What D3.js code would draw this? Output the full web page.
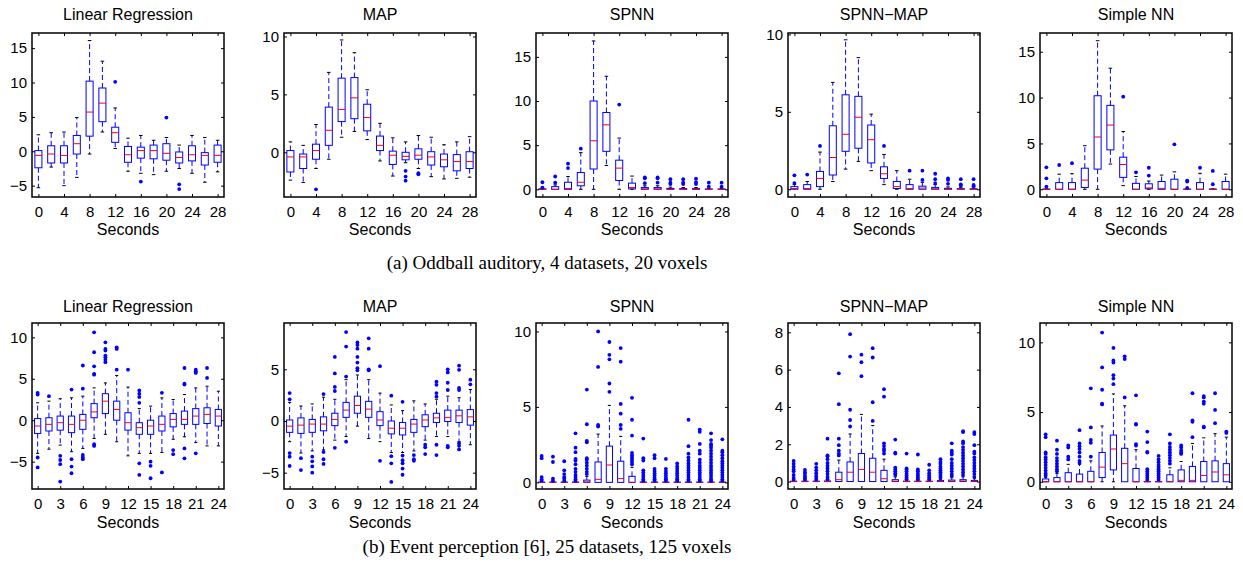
<!DOCTYPE html>
<html>
<head>
<meta charset="utf-8">
<script src="https://cdn.jsdelivr.net/npm/d3@7"></script>
<style>
body { margin: 0; background: #fff; }
svg { display: block; font-family: "Liberation Sans", Arial, sans-serif; }
</style>
</head>
<body>
<svg id="chart" width="1243" height="571"></svg>
<script>
// categories (seconds) and tick labels
const secondsA = [0, 2, 4, 6, 8, 10, 12, 14, 16, 18, 20, 22, 24, 26, 28];
const secondsB = [0, 1.5, 3, 4.5, 6, 7.5, 9, 10.5, 12, 13.5, 15, 16.5, 18, 19.5, 21, 22.5, 24];
const xTicksA = [0, 4, 8, 12, 16, 20, 24, 28];
const xTicksB = [0, 3, 6, 9, 12, 15, 18, 21, 24];

// box stats per time point: [lower whisker, q1, median, q3, upper whisker]
// (a) Oddball auditory
const lrA = [[-5.3,-2.4,-0.6,0.1,2.4],[-2.3,-1.7,-0.4,0.8,2.7],[-5.0,-1.7,-0.6,0.8,2.8],[-3.8,-0.4,1.1,2.3,4.9],
  [-0.4,2.2,5.7,10.2,16.1],[2.8,4.3,7.0,9.2,13.1],[0.4,1.3,2.7,3.5,6.3],[-2.9,-1.6,-0.5,0.7,1.9],
  [-3.2,-1.0,0.1,0.6,2.3],[-3.4,-1.1,0.1,0.9,1.6],[-2.9,-1.3,-0.3,1.1,2.0],[-2.5,-1.7,-0.9,-0.1,0.9],
  [-3.2,-1.4,-0.5,0.8,2.3],[-4.5,-2.0,-0.6,-0.2,2.0],[-3.0,-1.6,-0.6,0.9,1.6]];
const lrAOut = [[],[],[],[],[],[],[10.1],[],[-4.4],[],[4.9],[-4.8,-5.5],[],[],[]];

const mapA = [[-2.4,-1.7,-0.4,0.15,0.9],[-2.6,-1.4,-0.4,-0.15,0.6],[-1.4,-0.6,0.15,0.7,2.4],[-0.6,0.6,1.9,3.9,6.9],
  [1.3,2.65,3.7,6.4,9.7],[1.8,2.9,4.7,6.45,8.6],[1.1,1.85,3.0,4.15,5.4],[-0.75,0.15,0.6,1.4,2.5],
  [-2.05,-1.05,-0.25,0.1,1.25],[-0.9,-0.65,-0.35,0,0.9],[-1.4,-0.6,-0.25,0.3,1.45],[-2.1,-1.1,-0.4,0.05,1.3],
  [-2.3,-1.25,-0.65,-0.15,0.65],[-2.25,-1.6,-0.8,-0.2,0.9],[-2.15,-1.4,-0.8,0.05,1.35]];
const mapAOut = [[],[],[-3.2],[],[],[],[],[],[],[-1.6,-2.1,-2.45],[-1.8,-1.9],[],[],[],[]];

const spnnA = [[0,0,0,0.05,0.1],[0,0,0,0.3,0.5],[0,0,0.1,0.8,1.45],[0,0.4,0.8,1.9,4.15],
  [0,2.3,5.5,10.0,16.8],[2.7,4.3,7.3,8.7,12.8],[0,1.0,2.4,3.3,5.8],[0,0.05,0.2,0.7,1.5],
  [0,0,0.05,0.2,0.4],[0,0,0.05,0.2,0.4],[0,0,0,0.1,0.25],[0,0,0,0.08,0.2],
  [0,0,0,0.08,0.2],[0,0,0,0.04,0.1],[0,0,0,0.04,0.1]];
const spnnAOut = [[0.2,0.8],[0.75,1.45],[2.4,2.9],[4.6],[],[],[9.6],[],
  [0.7,1.25,1.35],[0.75,1.25,1.35],[0.6,0.75,1.15],[0.6,0.75,1.15],[0.6,0.8,1.2],[0.3,0.75],[0.3,0.75]];

const spnnMapA = [[0,0,0.05,0.17,0.3],[0,0,0.05,0.3,0.5],[0,0.17,0.7,1.15,2.4],[0.5,0.92,2.05,4.1,6.9],
  [1.3,2.45,3.55,6.1,9.65],[1.8,2.65,4.65,6.0,8.5],[1.2,1.7,3.2,4.15,4.85],[0.3,0.7,1.0,1.45,2.25],
  [0,0.05,0.17,0.5,1.2],[0,0,0.05,0.3,0.65],[0,0,0.08,0.2,0.45],[0,0,0.03,0.12,0.3],
  [0,0,0.02,0.06,0.15],[0,0,0.01,0.04,0.1],[0,0,0,0.03,0.08]];
const spnnMapAOut = [[0.4,0.9],[0.95],[2.8],[],[],[],[],[2.8],
  [],[1.2],[0.6,1.2],[0.4,0.65,1.0],[0.35,0.6,0.7],[0.24,0.32,0.65],[0.2,0.28,0.65]];

const nnA = [[0,0,0,0.03,0.05],[0,0,0,0.73,1.65],[0,0,0,0.73,1.7],[0,0.2,1.0,2.3,4.75],
  [0,2.2,5.7,10.2,16.2],[2.75,4.3,7.0,9.15,13.2],[0.4,1.3,2.7,3.5,6.3],[0,0,0,0.65,1.4],
  [0,0.05,0.15,0.6,0.9],[0,0,0.1,0.85,1.55],[0,0,0,1.1,1.9],[0,0,0,0.03,0.1],
  [0,0,0,0.73,1.75],[0,0,0,0.03,0.05],[0,0,0,0.85,1.65]];
const nnAOut = [[0.3,1.2,2.4],[2.65],[2.85],[],[],[],[10.1],[1.85],
  [1.5,2.35],[],[4.9],[0.15,0.85,0.95],[2.35],[0.55,2.0],[]];

// (b) Event perception
const lrB = [[-4.0,-1.6,-0.7,0.2,2.1],[-3.5,-1.3,-0.5,0.3,2.3],[-3.0,-1.2,-0.3,0.5,2.6],[-3.8,-1.5,-0.5,0.5,2.7],
  [-3.4,-1.1,0,0.7,2.9],[-2.2,0.3,1.0,2.0,3.9],[-1.7,0.8,2.3,3.2,4.5],[-2.6,0,1.3,2.3,5.4],
  [-4.3,-1.2,-0.3,0.9,4.0],[-4.0,-1.7,-0.9,-0.3,1.4],[-4.0,-1.7,-0.7,0,1.7],[-3.9,-1.3,-0.5,0.5,2.7],
  [-2.3,-0.8,0.1,0.8,2.5],[-2.0,-0.5,0.1,1.1,3.1],[-2.7,-0.5,0.5,1.4,3.9],[-3.1,-0.4,0.7,1.5,4.1],
  [-3.1,-0.7,0.5,1.3,3.5]];
const lrBOut = [[3.1,3.3,-4.5,-5.7],[2.9],[-4.3,-4.8,-5.3,-7.4],[3.7,-4.7,-5.6,-6.4],
  [3.8,6.6,-4.2,-4.5,-4.7],[5.5,5.6,6.5,8.2,10.6,-2.9,-3.1],[7.0,7.3,7.6,7.8,8.4,8.6,9.4],[6.1,8.6,8.8],
  [6.1],[2.1,2.8,3.2,3.6,-5.2,-6.6],[-5.0,-5.5,-7.0],[3.3,-6.3],
  [-3.6,-4.1],[4.3,4.4,6.3,-3.4,-4.6],[5.7,5.9,6.1,-4.0],[5.1,6.3],[]];

const mapB = [[-2.0,-1.1,-0.5,0.1,1.8],[-3.1,-1.2,-0.4,0.3,1.45],[-2.9,-1.1,-0.3,0.15,1.65],[-2.8,-0.95,-0.3,0.4,2.3],
  [-1.85,-0.45,0.15,0.75,2.1],[-1.5,0.35,1.05,1.8,4.0],[-0.5,0.75,1.5,2.4,4.45],[-1.7,0.35,1.15,1.9,4.0],
  [-2.0,-0.45,0.1,0.9,2.7],[-3.05,-1.25,-0.7,0,1.55],[-3.05,-1.35,-0.7,-0.15,1.0],[-2.9,-1.1,-0.3,0.15,1.95],
  [-1.85,-0.55,0.1,0.6,1.65],[-1.5,-0.15,0.3,0.75,2.1],[-1.5,-0.05,0.35,1.05,2.4],[-2.0,-0.15,0.5,1.05,2.25],
  [-2.3,-0.4,0.4,1.1,3.05]];
const mapBOut = [[2.1,2.7,-3.1,-3.45,-4.35],[-3.6,-4.75],[-3.45,-3.9,-4.4,-5.0],[2.6,-3.0,-3.7,-4.15],
  [2.9,3.3,4.6,6.2,-2.6],[4.3,7.2,8.6,-2.0],[4.9,5.1,5.65,6.2,7.0,7.35,7.6],[4.9,5.0,7.0,8.0],
  [5.3,-3.85],[2.45,-3.4,-4.1,-5.9],[1.85,-3.35,-3.8,-4.1,-4.6,-5.2],[-3.3,-3.7,-3.85],
  [-2.3,-2.55,-3.2],[2.35,2.7,3.5,3.8,-2.3,-3.3],[3.0,3.7,4.7,5.0,-2.4,-2.55],[3.0,3.2,4.95,5.35,-2.15,-2.4,-2.75],
  [3.55,4.0]];

const spnnB = [[0,0,0,0.02,0.05],[0,0,0,0.02,0.05],[0,0,0,0.02,0.05],[0,0,0,0.02,0.05],
  [0,0,0.03,0.15,0.4],[0,0,0.2,1.35,3.2],[0,0,1.15,2.4,5.1],[0,0,0.25,1.4,3.05],
  [0,0,0,0.4,1.0],[0,0,0,0.02,0.05],[0,0,0,0.02,0.05],[0,0,0,0.02,0.05],
  [0,0,0,0.02,0.05],[0,0,0,0.02,0.05],[0,0,0,0.02,0.05],[0,0,0,0.02,0.05],
  [0,0,0,0.02,0.05]];
const spnnBOut = [[0.1,0.2,0.35,1.6,1.75],[0.1,0.25,1.35,1.7],[0.1,0.25,0.35,0.55,0.8,1.4],
  [0.1,0.2,0.35,0.5,0.7,0.9,1.2,1.45,1.55,2.0,2.3,3.25],
  [0.55,0.7,0.9,1.1,1.3,1.5,1.6,2.65,2.75,3.85,6.15],[3.7,3.8,7.65,10.0],[6.0,6.55,8.15,8.45,9.3],
  [3.55,3.8,4.55,5.2,8.0,8.9],[1.2,1.35,1.5,1.65,1.8,1.95,3.1,4.15,5.6],
  [0.1,0.2,0.35,0.5,0.65,0.8,1.45,1.6,2.9],[0.1,0.2,0.3,0.45,0.6,0.75,0.9,1.6,1.8],
  [0.1,0.2,0.3,0.45,0.6,0.75,0.9,1.55],[0.1,0.2,0.3,0.45,0.6,0.75,0.9,1.05,1.25],
  [0.1,0.2,0.35,0.5,0.65,0.8,0.95,1.1,1.25,1.45,1.65,1.9,2.4,4.15],
  [0.1,0.2,0.35,0.5,0.65,0.8,0.95,1.1,1.3,1.5,1.9,2.1,2.55,3.35,3.5],
  [0.1,0.2,0.35,0.5,0.65,0.8,0.95,1.1,1.3,1.5,1.7,1.9,2.1,2.3,2.45,2.55,2.8,3.25],
  [0.1,0.2,0.35,0.5,0.65,0.8,0.95,1.1,1.25,1.4,1.6,1.8,2.0,2.1,2.85]];

const spnnMapB = [[0,0,0,0.02,0.04],[0,0,0,0.02,0.04],[0,0,0,0.02,0.04],[0,0,0,0.03,0.06],
  [0,0,0.1,0.5,1.15],[0,0,0.5,1.05,2.55],[0,0,0.65,1.5,3.6],[0,0,0.5,1.25,3.0],
  [0,0,0.15,0.6,1.2],[0,0,0.02,0.1,0.25],[0,0,0,0.02,0.05],[0,0,0,0.02,0.05],
  [0,0,0,0.02,0.05],[0,0,0.02,0.06,0.12],[0,0,0.02,0.08,0.2],[0,0,0.03,0.1,0.25],
  [0,0,0.02,0.06,0.15]];
const spnnMapBOut = [[0.1,0.2,0.35,0.55,0.65,0.8,0.95,1.1],[0.1,0.18,0.28,0.4,0.5,0.62],
  [0.1,0.2,0.3,0.45,0.6,0.75,0.95],[0.12,0.25,0.4,0.55,0.7,0.85,1.0,1.2,1.35,1.4,2.3],
  [1.4,1.5,1.65,1.95,2.3,4.15,5.8],[2.95,3.3,3.85,6.7,7.9],[5.65,6.4,6.8],[3.25,4.25,6.65,7.15],
  [1.5,1.65,1.75,1.9,2.05,4.55,4.95],[0.35,0.45,0.55,0.65,0.75,1.5,1.55,2.25],
  [0.12,0.22,0.32,0.42,0.55,0.65,0.7,1.5],[0.12,0.22,0.32,0.42,0.55,0.65,1.45],
  [0.12,0.22,0.32,0.45,0.6,0.9],[0.2,0.3,0.4,0.5,0.6,0.7,0.8,0.95,1.05,1.2],
  [0.3,0.4,0.55,0.7,0.85,1.0,1.2,1.45,1.55,1.65,2.05],
  [0.35,0.5,0.65,0.8,0.95,1.1,1.25,1.4,1.55,1.7,1.85,2.05,2.15,2.65,2.7],
  [0.25,0.4,0.55,0.7,0.85,1.0,1.15,1.3,1.5,1.6,1.95,2.55,2.65]];

const nnB = [[0,0,0,0.2,0.3],[0,0,0,0.3,0.6],[0,0,0,0.65,1.25],[0,0,0,0.55,1.25],
  [0,0,0,0.75,1.5],[0,0.3,1.05,2.1,4.0],[0,0.85,2.35,3.35,6.3],[0,0,1.3,2.4,5.45],
  [0,0,0,0.95,2.3],[0,0,0,0.02,0.05],[0,0,0,0.02,0.05],[0,0,0,0.5,1.0],
  [0,0,0.1,0.85,1.45],[0,0,0.1,1.1,2.75],[0,0,0.45,1.45,3.15],[0,0,0.7,1.5,3.45],
  [0,0,0.5,1.3,3.2]];
const nnBOut = [[0.45,0.6,0.8,1.0,1.2,1.4,1.6,1.75,2.0,2.1,3.2,3.4],[0.75,0.9,1.1,1.3,1.5,1.7,2.0,2.3,2.95],
  [1.6,1.8,2.45,2.6],[1.35,1.5,1.8,2.1,2.35,2.55,2.75,3.7],[1.8,2.8,3.0,3.9,6.7],
  [5.55,5.6,6.6,8.2,10.7],[7.0,7.4,7.65,8.55,8.7,9.6],[6.05,8.8,9.0],[2.6,2.7,4.1,4.15,6.2],
  [0.15,0.3,0.45,0.6,0.75,0.9,2.1,2.15,2.85,3.6],[0.15,0.3,0.45,0.6,0.75,0.9,1.05,1.2,1.4,1.6,1.85],
  [1.3,1.5,1.7,1.9,2.1,2.3,2.5,2.75,3.4],[2.0,2.1,2.25,2.45,2.6],[3.2,4.3,4.4,6.35],
  [3.9,3.95,5.6,5.75,6.05,6.15],[4.2,5.15,6.35],[3.5,3.6]];

// layout
const W = 192;
const rows = [
  { top: 33, height: 164, xDomain: [-1, 29], seconds: secondsA, ticks: xTicksA, boxW: 1.1,
    titleY: 20, tickPad: 9, labelY: 235,
    caption: '(a) Oddball auditory, 4 datasets, 20 voxels', captionY: 269 },
  { top: 323, height: 166, xDomain: [-0.75, 24.75], seconds: secondsB, ticks: xTicksB, boxW: 0.825,
    titleY: 312, tickPad: 9, labelY: 528,
    caption: '(b) Event perception [6], 25 datasets, 125 voxels', captionY: 553 }
];

const panels = [
  { row: 0, col: 0, title: 'Linear Regression', stats: lrA, out: lrAOut, yDomain: [-6.65, 17.2], yTicks: [-5, 0, 5, 10, 15] },
  { row: 0, col: 1, title: 'MAP', stats: mapA, out: mapAOut, yDomain: [-3.86, 10.3], yTicks: [0, 5, 10] },
  { row: 0, col: 2, title: 'SPNN', stats: spnnA, out: spnnAOut, yDomain: [-0.87, 17.7], yTicks: [0, 5, 10, 15] },
  { row: 0, col: 3, title: 'SPNN\u2212MAP', stats: spnnMapA, out: spnnMapAOut, yDomain: [-0.5, 10.09], yTicks: [0, 5, 10] },
  { row: 0, col: 4, title: 'Simple NN', stats: nnA, out: nnAOut, yDomain: [-0.84, 17.04], yTicks: [0, 5, 10, 15] },
  { row: 1, col: 0, title: 'Linear Regression', stats: lrB, out: lrBOut, yDomain: [-8.3, 11.73], yTicks: [-5, 0, 5, 10] },
  { row: 1, col: 1, title: 'MAP', stats: mapB, out: mapBOut, yDomain: [-6.58, 9.48], yTicks: [-5, 0, 5] },
  { row: 1, col: 2, title: 'SPNN', stats: spnnB, out: spnnBOut, yDomain: [-0.44, 10.56], yTicks: [0, 5, 10] },
  { row: 1, col: 3, title: 'SPNN\u2212MAP', stats: spnnMapB, out: spnnMapBOut, yDomain: [-0.4, 8.5], yTicks: [0, 2, 4, 6, 8] },
  { row: 1, col: 4, title: 'Simple NN', stats: nnB, out: nnBOut, yDomain: [-0.52, 11.39], yTicks: [0, 5, 10] }
];

const svg = d3.select('#chart');
const fmt = d => d < 0 ? '\u2212' + Math.abs(d) : String(d);

function drawPanel(p) {
  const r = rows[p.row];
  const H = r.height;
  const left = 32 + p.col * 252;
  const g = svg.append('g').attr('transform', `translate(${left},${r.top})`);

  const x = d3.scaleLinear().domain(r.xDomain).range([0, W]);
  const y = d3.scaleLinear().domain(p.yDomain).range([H, 0]);
  const bw = x(r.boxW) - x(0);

  const data = p.stats.map((s, i) => ({ t: r.seconds[i], s, out: p.out[i] }));
  const box = g.selectAll('g.box').data(data).join('g').attr('class', 'box');

  // whiskers (dashed)
  box.append('line')
    .attr('x1', d => x(d.t)).attr('x2', d => x(d.t))
    .attr('y1', d => y(d.s[3])).attr('y2', d => y(d.s[4]))
    .attr('stroke', '#0000ff').attr('stroke-dasharray', '5,3');
  box.append('line')
    .attr('x1', d => x(d.t)).attr('x2', d => x(d.t))
    .attr('y1', d => y(d.s[1])).attr('y2', d => y(d.s[0]))
    .attr('stroke', '#0000ff').attr('stroke-dasharray', '5,3');

  // whisker caps
  [0, 4].forEach(k => {
    box.filter(d => d.s[k] !== d.s[k === 0 ? 1 : 3]).append('line')
      .attr('x1', d => x(d.t) - bw / 4).attr('x2', d => x(d.t) + bw / 4)
      .attr('y1', d => y(d.s[k])).attr('y2', d => y(d.s[k]))
      .attr('stroke', '#000');
  });

  // boxes
  box.append('rect')
    .attr('x', d => x(d.t) - bw / 2).attr('width', bw)
    .attr('y', d => y(d.s[3])).attr('height', d => Math.max(0.01, y(d.s[1]) - y(d.s[3])))
    .attr('fill', 'none').attr('stroke', '#0000ff');

  // medians
  box.append('line')
    .attr('x1', d => x(d.t) - bw / 2).attr('x2', d => x(d.t) + bw / 2)
    .attr('y1', d => y(d.s[2])).attr('y2', d => y(d.s[2]))
    .attr('stroke', '#ff0000');

  // outliers
  box.selectAll('circle').data(d => d.out.map(v => ({ t: d.t, v }))).join('circle')
    .attr('cx', d => x(d.t)).attr('cy', d => y(d.v)).attr('r', 1.9)
    .attr('fill', '#0000ff');

  // axes with inward ticks, mirrored on top and right
  const styleAxis = a => {
    a.select('.domain').remove();
    a.selectAll('line').attr('stroke', '#000');
    a.selectAll('text').attr('font-size', 15).attr('fill', '#000');
  };
  g.append('g').attr('transform', `translate(0,${H})`)
    .call(d3.axisBottom(x).tickValues(r.ticks).tickSize(-3).tickPadding(r.tickPad).tickFormat(fmt))
    .call(styleAxis);
  g.append('g')
    .call(d3.axisTop(x).tickValues(r.ticks).tickSize(-3).tickFormat(''))
    .call(styleAxis);
  g.append('g')
    .call(d3.axisLeft(y).tickValues(p.yTicks).tickSize(-3).tickPadding(5).tickFormat(fmt))
    .call(styleAxis);
  g.append('g').attr('transform', `translate(${W},0)`)
    .call(d3.axisRight(y).tickValues(p.yTicks).tickSize(-3).tickFormat(''))
    .call(styleAxis);
  g.selectAll('.tick text').attr('font-family', '"Liberation Sans", Arial, sans-serif');

  g.append('rect').attr('width', W).attr('height', H)
    .attr('fill', 'none').attr('stroke', '#000').attr('stroke-width', 1.5);

  svg.append('text')
    .attr('x', left + W / 2).attr('y', r.titleY)
    .attr('text-anchor', 'middle').attr('font-size', 16)
    .text(p.title);
  svg.append('text')
    .attr('x', left + W / 2).attr('y', r.labelY)
    .attr('text-anchor', 'middle').attr('font-size', 16)
    .text('Seconds');
}

panels.forEach(drawPanel);

rows.forEach(r => {
  svg.append('text')
    .attr('x', 547).attr('y', r.captionY)
    .attr('text-anchor', 'middle')
    .attr('font-family', '"Liberation Serif", "Times New Roman", serif')
    .attr('font-size', 19)
    .text(r.caption);
});
</script>
</body>
</html>
